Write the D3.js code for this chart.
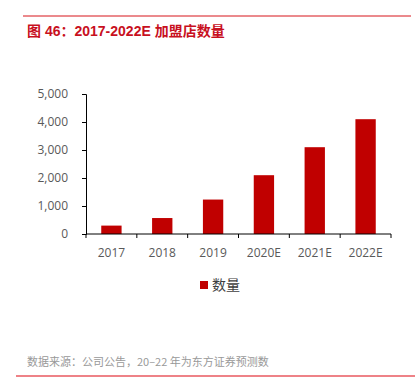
<!DOCTYPE html>
<html>
<head>
<meta charset="utf-8">
<script src="https://cdn.jsdelivr.net/npm/d3@7"></script>
<style>
  body { margin: 0; background: #fff; }
  svg { display: block; font-family: "Noto Sans CJK SC", "DejaVu Sans", sans-serif; }
</style>
</head>
<body>
<div id="chart"></div>
<script>
var years = ["2017", "2018", "2019", "2020E", "2021E", "2022E"];
var stores = [300, 570, 1230, 2100, 3100, 4100];
var yTicks = [0, 1000, 2000, 3000, 4000, 5000];
var seriesName = "数量";

var width = 415, height = 386;
var plot = {left: 86, right: 391, top: 94, bottom: 234};
var tickFont = "'Open Sans', 'DejaVu Sans', sans-serif";

var svg = d3.select("#chart").append("svg").attr("width", width).attr("height", height);

// header line + title
svg.append("line").attr("x1", 23).attr("x2", 411).attr("y1", 16).attr("y2", 16)
    .attr("stroke", "#d7141a").attr("stroke-width", 1);
svg.append("text").attr("x", 27).attr("y", 36)
    .attr("fill", "#c8101e").attr("font-size", 14).attr("font-weight", "bold")
    .style("font-family", "'Liberation Sans', 'Noto Sans CJK SC', sans-serif")
    .text("图 46：2017-2022E 加盟店数量");

var x = d3.scaleBand().domain(years).range([plot.left, plot.right]).paddingInner(0.6).paddingOuter(0.3);
var y = d3.scaleLinear().domain([0, 5000]).range([plot.bottom, plot.top]);

var g = svg.append("g");

g.selectAll("rect.bar").data(stores).enter().append("rect")
    .attr("class", "bar")
    .attr("x", function(d, i) { return x(years[i]); })
    .attr("y", function(d) { return y(d); })
    .attr("width", x.bandwidth())
    .attr("height", function(d) { return y(0) - y(d); })
    .attr("fill", "#c00000");

var yAxis = g.append("g").attr("transform", "translate(" + plot.left + ",0)")
    .call(d3.axisLeft(y).tickValues(yTicks).tickSize(4).tickPadding(14).tickFormat(d3.format(",")));
yAxis.select(".domain").attr("stroke", "#000");
yAxis.selectAll(".tick line").attr("stroke", "#000");
yAxis.selectAll("text").attr("fill", "#595959")
    .style("font-family", tickFont).style("font-size", "12px");

// x axis with ticks between categories
var xAxis = g.append("g").attr("transform", "translate(0," + plot.bottom + ")");
xAxis.append("line").attr("x1", plot.left).attr("x2", plot.right).attr("stroke", "#000");
var edges = d3.range(years.length + 1).map(function(i) { return plot.left + (plot.right - plot.left) * i / years.length; });
xAxis.selectAll("line.tk").data(edges).enter().append("line").attr("class", "tk")
    .attr("x1", function(d) { return d; }).attr("x2", function(d) { return d; })
    .attr("y1", 0).attr("y2", 4).attr("stroke", "#000");
xAxis.selectAll("text").data(years).enter().append("text")
    .attr("x", function(d) { return x(d) + x.bandwidth() / 2; })
    .attr("y", 23).attr("text-anchor", "middle")
    .attr("fill", "#595959").style("font-size", "12px")
    .style("font-family", tickFont)
    .text(function(d) { return d; });

// legend
svg.append("rect").attr("x", 200).attr("y", 281).attr("width", 8).attr("height", 8).attr("fill", "#c00000");
svg.append("text").attr("x", 212).attr("y", 290).attr("fill", "#404040").attr("font-size", 14).text(seriesName);

// source + bottom line
svg.append("text").attr("x", 27).attr("y", 366).attr("fill", "#999").attr("font-size", 11)
    .text("数据来源：公司公告，20–22 年为东方证券预测数");
svg.append("line").attr("x1", 16).attr("x2", 415).attr("y1", 376).attr("y2", 376)
    .attr("stroke", "#e8595f").attr("stroke-width", 1.5);
</script>
</body>
</html>
